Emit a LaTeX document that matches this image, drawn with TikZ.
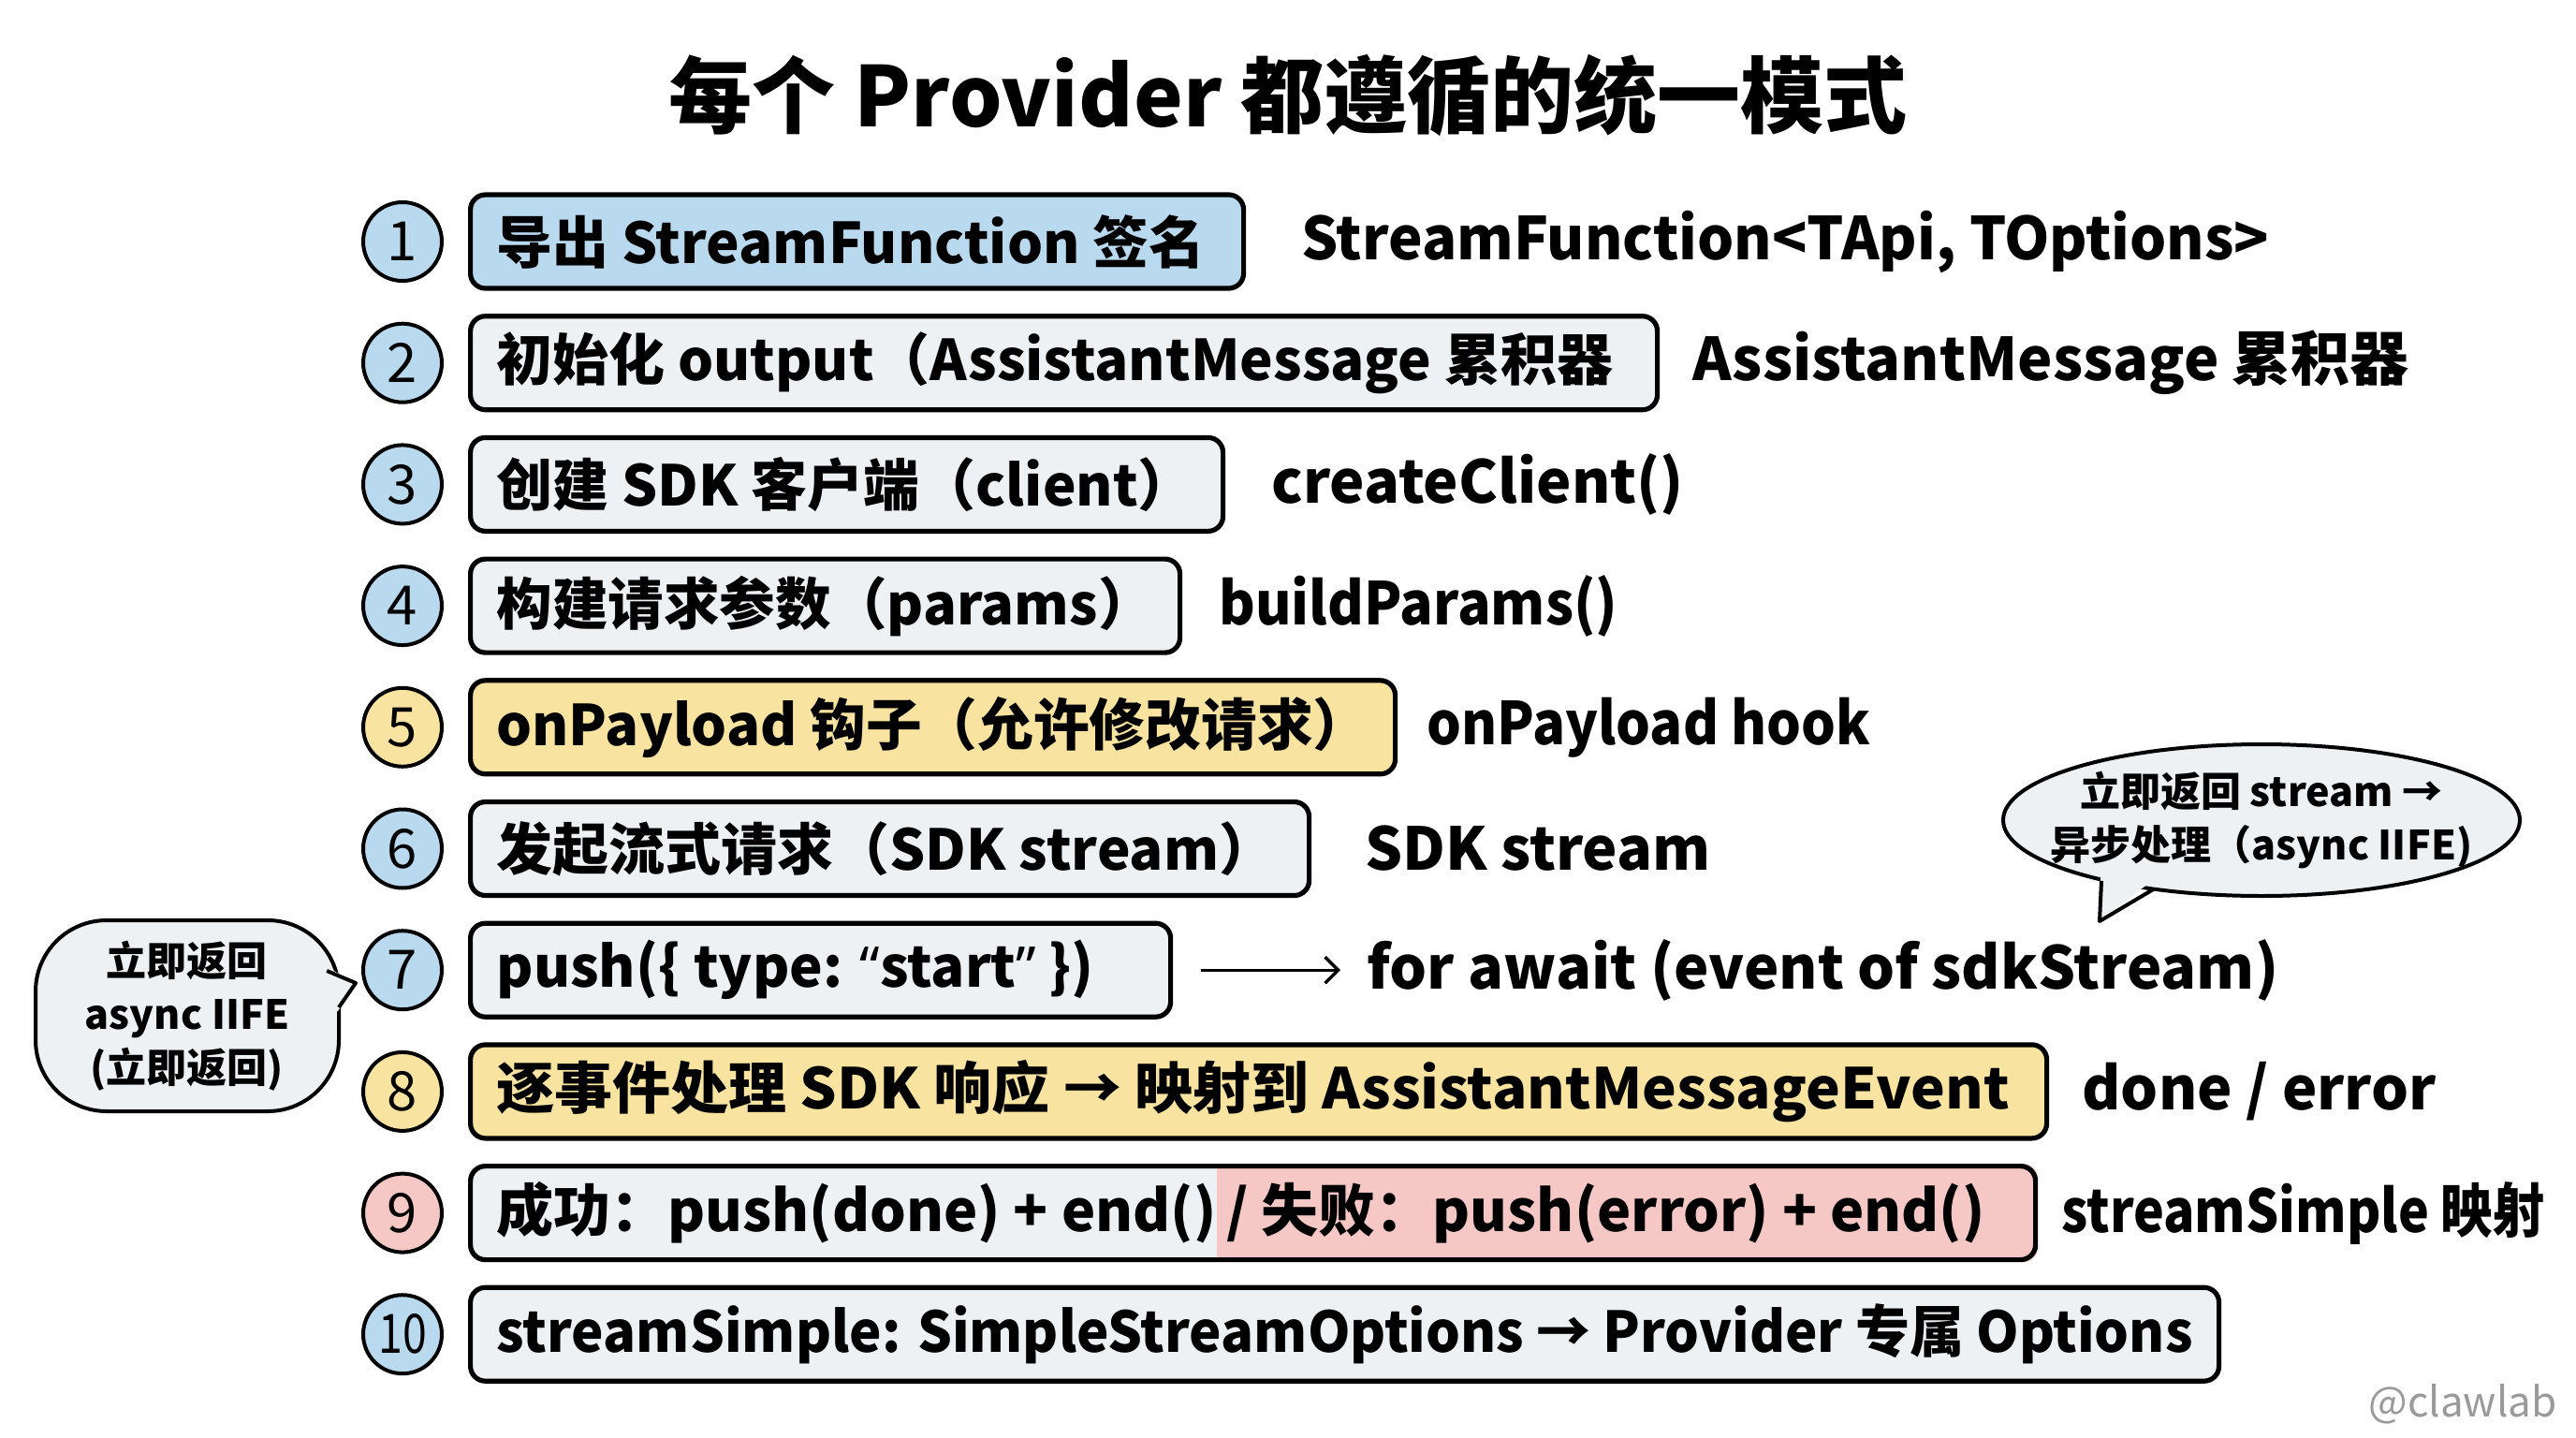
\documentclass[tikz,border=0pt]{standalone}
\usepackage{fontspec}
\usepackage{graphicx}
\setmainfont{Noto Sans CJK SC}
\newfontfamily\latq{Noto Sans}
\usetikzlibrary{arrows.meta,shapes.geometric,calc,backgrounds}
\definecolor{bluef}{HTML}{B9D9EF}
\definecolor{yelf}{HTML}{F8E3A1}
\definecolor{pinkf}{HTML}{F6C8C5}
\definecolor{grayf}{HTML}{EEF1F4}
\definecolor{bubf}{HTML}{EEF1F4}
\definecolor{wm}{HTML}{9A9A9A}
\newsavebox{\fitbx}
\newcommand{\fitto}[2]{\sbox{\fitbx}{#2}\ifdim\wd\fitbx>#1\relax\resizebox{#1}{\height}{\usebox{\fitbx}}\else\usebox{\fitbx}\fi}
\newcommand{\bxt}[2]{\makebox[#1][l]{\fitto{#1}{#2}}}
\begin{document}
\begin{tikzpicture}[x=1pt,y=-1pt,
  num/.style={circle, draw, line width=2pt, minimum size=42pt, inner sep=0pt, font=\fontsize{29}{30}\selectfont},
  stepbox/.style={draw, line width=2.6pt, rounded corners=8pt, minimum height=50pt, anchor=west, inner ysep=0pt, inner xsep=14pt, font=\bfseries\fontsize{30}{34}\selectfont},
  lab/.style={anchor=west, inner sep=0pt, font=\bfseries\fontsize{31.5}{34}\selectfont},
  bubtext/.style={align=center, inner sep=0pt, font=\bfseries\fontsize{21.5}{28.5}\selectfont},
  tail/.style={line width=2pt, line join=round}
]
\useasboundingbox (0,0) rectangle (1376,768);
\begin{scope}[on background layer]
\fill[white] (0,0) rectangle (1376,768);
\end{scope}

% title
\node[font=\bfseries\fontsize{44.5}{48}\selectfont, inner sep=0pt] (title) at (688,51) {每个 Provider 都遵循的统一模式};

% number circles
\foreach \i/\c in {1/bluef,2/bluef,3/bluef,4/bluef,5/yelf,6/bluef,7/bluef,8/yelf,9/pinkf}{
  \node[num, fill=\c] (n\i) at (215,{129+64.85*(\i-1)}) {\i};
}
\node[num, fill=bluef] (n10) at (215,712.6) {\scalebox{0.8}[1]{10}};

% step boxes
\node[stepbox, fill=bluef] (b1) at (250,129) {\bxt{385pt}{导出 StreamFunction 签名}};
\node[stepbox, fill=grayf] (b2) at (250,193.85) {\bxt{606pt}{初始化 output（AssistantMessage 累积器}};
\node[stepbox, fill=grayf] (b3) at (250,258.7) {\bxt{374pt}{创建 SDK 客户端（client）}};
\node[stepbox, fill=grayf] (b4) at (250,323.55) {\bxt{351pt}{构建请求参数（params）}};
\node[stepbox, fill=yelf] (b5) at (250,388.4) {\bxt{466pt}{onPayload 钩子（允许修改请求）}};
\node[stepbox, fill=grayf] (b6) at (250,453.25) {\bxt{420pt}{发起流式请求（SDK stream）}};
\node[stepbox, fill=grayf] (b7) at (250,518.1) {\bxt{346pt}{push(\{ type: {\latq\bfseries “}start{\latq\bfseries ”} \})}};
\node[stepbox, fill=yelf] (b8) at (250,582.95) {\makebox[814pt][l]{\resizebox{808pt}{\height}{逐事件处理 SDK 响应 → 映射到 AssistantMessageEvent}}};
\node[stepbox] (b9) at (250,647.8) {\makebox[808pt]{}};
\node[lab, font=\bfseries\fontsize{30.5}{34}\selectfont] (s9a) at (265,647.8) {成功：push(done) + end()};
\node[lab, inner xsep=5pt, font=\bfseries\fontsize{30.5}{34}\selectfont] (s9b) at (s9a.east) {/ 失败：push(error) + end()};
\begin{scope}[on background layer]
  \fill[grayf, rounded corners=8pt] (b9.north west) rectangle (b9.south east);
  \begin{scope}
    \clip[rounded corners=8pt] (b9.north west) rectangle (b9.south east);
    \fill[pinkf] (s9b.west |- b9.north) rectangle (b9.south east);
  \end{scope}
\end{scope}
\node[stepbox, fill=grayf] (b10) at (250,712.6) {\bxt{906pt}{streamSimple: SimpleStreamOptions → Provider 专属 Options}};

% right labels
\node[lab] (r1) at (695,129) {\fitto{517pt}{StreamFunction<TApi, TOptions>}};
\node[lab] (r2) at (904,193.85) {AssistantMessage 累积器};
\node[lab] (r3) at (679,258.7) {createClient()};
\node[lab] (r4) at (651,323.55) {\fitto{213pt}{buildParams()}};
\node[lab] (r5) at (762,388.4) {\fitto{237pt}{onPayload hook}};
\node[lab] (r6) at (729,453.25) {SDK stream};
\node[lab] (r7) at (730,518.1) {for await (event of sdkStream)};
\node[lab] (r8) at (1112,582.95) {done / error};
\node[lab] (r9) at (1101,647.8) {\fitto{258pt}{streamSimple 映射}};

\draw[line width=1.7pt, -{Straight Barb[length=7pt,width=14pt,line width=1.7pt]}] ([xshift=15pt]b7.east) -- ([xshift=-14pt]r7.west);

% right speech bubble
\node[ellipse, draw, line width=2pt, fill=bubf, minimum width=276pt, minimum height=81pt, inner sep=0pt] (rb) at (1208,438) {};
\coordinate (rtip) at (1121.5,492);
\fill[bubf] ($(rb.center)+(-86,30)$) -- (rtip) -- ($(rb.center)+(-58,32)$) -- ($(rb.center)+(-58,20)$) -- ($(rb.center)+(-86,20)$) -- cycle;
\draw[tail] ($(rb.center)+(-85.5,32.4)$) -- (rtip) -- ($(rb.center)+(-58,37.1)$);
\node[bubtext] (rbt) at (1208,438) {立即返回 stream →\\异步处理（async IIFE)};

% left speech bubble
\node[draw, line width=2pt, fill=bubf, rounded corners=38pt, minimum width=162pt, minimum height=102pt, inner sep=0pt] (lb) at (100,542.5) {};
\coordinate (ltip) at (190,525);
\fill[bubf] (172,515) -- (ltip) -- (180.5,540) -- (170,540) -- cycle;
\draw[tail] (174.6,518.5) -- (ltip) -- (181,538);
\node[bubtext] (lbt) at (100,542.5) {立即返回\\async IIFE\\(立即返回)};

% watermark
\node[anchor=east, inner sep=0pt, text=wm, font=\fontsize{22}{24}\selectfont] (wmk) at (1366,750) {@clawlab};
\end{tikzpicture}
\end{document}
